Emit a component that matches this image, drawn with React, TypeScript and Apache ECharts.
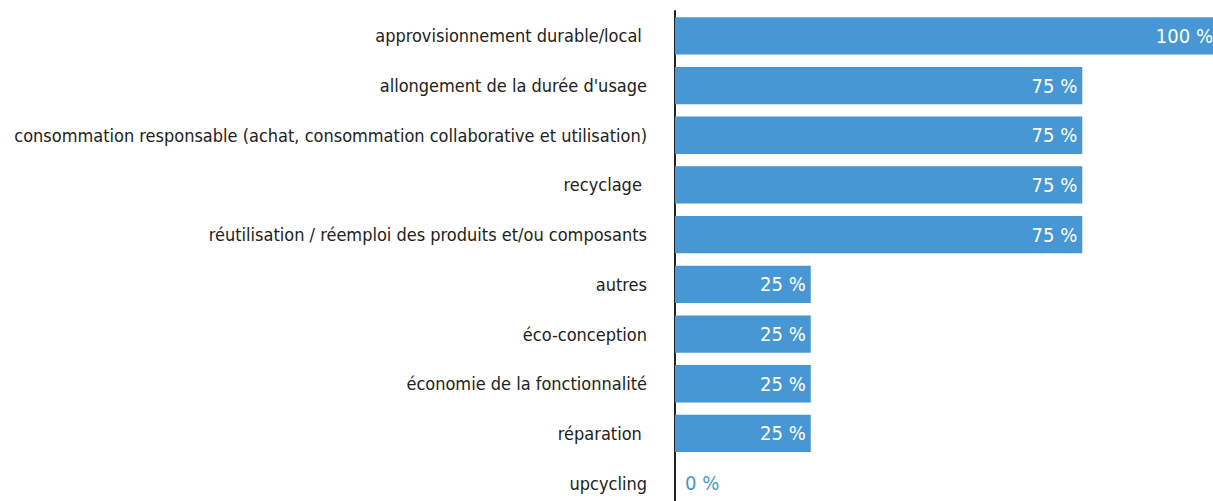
import React, { useEffect, useRef } from "react";
import * as echarts from "echarts";

const categories = [
  "approvisionnement durable/local ",
  "allongement de la durée d'usage",
  "consommation responsable (achat, consommation collaborative et utilisation)",
  "recyclage ",
  "réutilisation / réemploi des produits et/ou composants",
  "autres",
  "éco-conception",
  "économie de la fonctionnalité",
  "réparation ",
  "upcycling",
];
const values = [100, 75, 75, 75, 75, 25, 25, 25, 25, 0];

const BLUE = "#4697D4";
const FONT = "'DejaVu Sans Condensed', sans-serif";

export default function App() {
  const ref = useRef<HTMLDivElement>(null);
  useEffect(() => {
    document.body.style.margin = "0";
    const chart = echarts.init(ref.current!, null, { renderer: "svg" });
    chart.setOption({
      animation: false,
      grid: {
        left: 675,
        right: -5,
        top: 11,
        bottom: -7,
        containLabel: false,
        outerBoundsMode: "none",
      },
      xAxis: {
        type: "value",
        min: 0,
        max: 100,
        show: false,
      },
      yAxis: {
        type: "category",
        data: categories,
        inverse: true,
        axisLine: { show: true, lineStyle: { color: "#222", width: 2 } },
        axisTick: { show: false },
        axisLabel: {
          margin: 28,
          fontFamily: FONT,
          fontSize: 18,
          color: "#222",
        },
      },
      series: [
        {
          type: "bar",
          barCategoryGap: "25%",
          itemStyle: { color: BLUE },
          data: values.map((v) =>
            v === 0
              ? {
                  value: v,
                  label: { position: "right", distance: 10, color: BLUE },
                }
              : { value: v }
          ),
          label: {
            show: true,
            position: "insideRight",
            distance: 5,
            formatter: "{c} %",
            color: "#fff",
            fontFamily: FONT,
            fontSize: 20,
          },
        },
      ],
    });
    return () => chart.dispose();
  }, []);
  return <div ref={ref} style={{ width: 1213, height: 501 }} />;
}
